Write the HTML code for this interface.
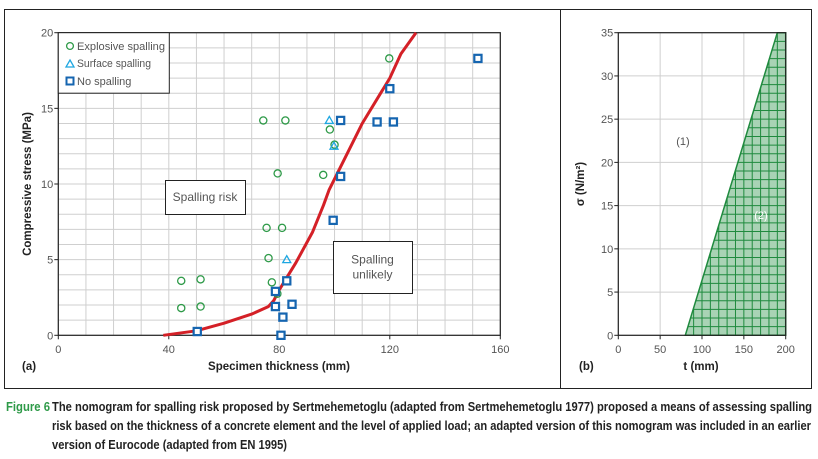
<!DOCTYPE html>
<html><head><meta charset="utf-8"><style>
html,body{margin:0;padding:0;background:#fff;}
svg{display:block;font-family:"Liberation Sans",sans-serif;}
</style></head><body>
<svg id="fig" width="818" height="459" viewBox="0 0 818 459">
<rect x="4.5" y="9.5" width="807" height="379" fill="none" stroke="#222" stroke-width="1"/>
<line x1="560.5" y1="9.5" x2="560.5" y2="388.5" stroke="#222"/>
<g id="pa"></g>
<g id="pb"></g>
<text x="6" y="411" font-size="12.5" font-weight="bold" fill="#2e9a48" textLength="44" lengthAdjust="spacingAndGlyphs">Figure 6</text>
<text x="52" y="411" font-size="12.5" font-weight="bold" fill="#222" textLength="760" lengthAdjust="spacingAndGlyphs">The nomogram for spalling risk proposed by Sertmehemetoglu (adapted from Sertmehemetoglu 1977) proposed a means of assessing spalling</text>
<text x="52" y="430" font-size="12.5" font-weight="bold" fill="#222" textLength="759" lengthAdjust="spacingAndGlyphs">risk based on the thickness of a concrete element and the level of applied load; an adapted version of this nomogram was included in an earlier</text>
<text x="52" y="449" font-size="12.5" font-weight="bold" fill="#222" textLength="235" lengthAdjust="spacingAndGlyphs">version of Eurocode (adapted from EN 1995)</text>
</svg>
<script>
const NS="http://www.w3.org/2000/svg";
// Panel (a) data
const explosiveX=[74.2,82.2,119.8,98.3,100,79.4,95.9,75.4,81,76.1,77.3,79.3,44.5,51.5,44.5,51.5];
const explosiveY=[14.2,14.2,18.3,13.6,12.6,10.7,10.6,7.1,7.1,5.1,3.5,2.75,3.6,3.7,1.8,1.9];
const surfaceX=[98.1,99.8,82.7];
const surfaceY=[14.2,12.5,5.0];
const noSpallX=[151.9,120,102.2,115.4,121.3,102.2,99.5,82.7,78.6,78.6,84.6,81.3,80.6,50.3];
const noSpallY=[18.3,16.3,14.2,14.1,14.1,10.5,7.6,3.6,2.9,1.9,2.05,1.2,0,0.25];
const curveX=[38,50,60,70,76,78,80,82,86,92,96,98,104,110,116,120,124,129.5];
const curveY=[0,0.3,0.8,1.4,1.9,2.3,3,3.6,4.8,6.8,8.6,9.6,11.8,14,15.8,17,18.6,20];
const xTicksA=[0,40,80,120,160];
const yTicksA=[0,5,10,15,20];
// Panel (b) data
const xTicksB=[0,50,100,150,200];
const yTicksB=[0,5,10,15,20,25,30,35];
const zoneX=[80,190,200,200];
const zoneY=[0,35,35,0];

function el(parent,tag,attrs,text){const e=document.createElementNS(NS,tag);for(const k in attrs)e.setAttribute(k,attrs[k]);if(text!==undefined)e.textContent=text;parent.appendChild(e);return e;}

// Panel a
const pa=document.getElementById('pa');
const ax0=58.3,ax1=500.3,ay0=335.3,ay1=32.7;
const xa=v=>ax0+(v/160)*(ax1-ax0);
const ya=v=>ay0-(v/20)*(ay0-ay1);
for(let v=0;v<=160;v+=10){const g=el(pa,'line',{x1:xa(v),y1:ay1,x2:xa(v),y2:ay0,stroke:'#cfcfcf','stroke-width':1});

}
for(let v=0;v<=20;v+=1){const g=el(pa,'line',{x1:ax0,y1:ya(v),x2:ax1,y2:ya(v),stroke:'#cfcfcf','stroke-width':1});

}
const fa=el(pa,'rect',{x:ax0,y:ay1,width:ax1-ax0,height:ay0-ay1,fill:'none',stroke:'#222','stroke-width':1.2});


xTicksA.forEach(v=>{const t=el(pa,'text',{x:xa(v),y:353,'font-size':11,'text-anchor':'middle',fill:'#555'},v);


el(pa,'line',{x1:xa(v),y1:ay0,x2:xa(v),y2:ay0+4,stroke:'#222'});});
yTicksA.forEach(v=>{const t=el(pa,'text',{x:ax0-5,y:ya(v)+4,'font-size':11,'text-anchor':'end',fill:'#555'},v);


el(pa,'line',{x1:ax0-4,y1:ya(v),x2:ax0,y2:ya(v),stroke:'#222'});});
function box(x,y,w,h,lines,name){const g=el(pa,'g',{});


el(g,'rect',{x:x+.5,y:y+.5,width:w,height:h,fill:'#fff',stroke:'#222','stroke-width':1});
lines.forEach((s,i)=>el(g,'text',{x:x+w/2,y:y+h/2+4+(i-(lines.length-1)/2)*15,'font-size':12,'text-anchor':'middle',fill:'#555'},s));}
box(165,180,80,34,['Spalling risk'],'spalling-risk-label');
box(333,241,79,52,['Spalling','unlikely'],'spalling-unlikely-label');
const d=curveX.map((x,i)=>(i?'L':'M')+xa(x).toFixed(1)+','+ya(curveY[i]).toFixed(1)).join(' ');
const cv=el(pa,'path',{d:d,fill:'none',stroke:'#d42027','stroke-width':3,'stroke-linejoin':'round'});


explosiveX.forEach((x,i)=>{const m=el(pa,'circle',{cx:xa(x),cy:ya(explosiveY[i]),r:3.6,fill:'none',stroke:'#2e9a48','stroke-width':1.3});

});
function tri(g,cx,cy){return el(g,'path',{d:`M${cx},${cy-4} L${cx+4},${cy+3} L${cx-4},${cy+3} Z`,fill:'none',stroke:'#1ea7e1','stroke-width':1.3});}
surfaceX.forEach((x,i)=>{const m=tri(pa,xa(x),ya(surfaceY[i]));

});
noSpallX.forEach((x,i)=>{const m=el(pa,'rect',{x:xa(x)-3.6,y:ya(noSpallY[i])-3.6,width:7.2,height:7.2,fill:'#fff',stroke:'#1565b0','stroke-width':2.2});

});
const lg=el(pa,'g',{});


el(lg,'rect',{x:ax0,y:ay1,width:111,height:60.5,fill:'#fff',stroke:'#222','stroke-width':1});
el(lg,'circle',{cx:70,cy:46,r:3.4,fill:'none',stroke:'#2e9a48','stroke-width':1.3});
el(lg,'text',{x:77,y:50,'font-size':11,fill:'#555',textLength:88,lengthAdjust:'spacingAndGlyphs'},'Explosive spalling');
tri(lg,70,64);
el(lg,'text',{x:77,y:67,'font-size':11,fill:'#555',textLength:74,lengthAdjust:'spacingAndGlyphs'},'Surface spalling');
el(lg,'rect',{x:66.5,y:77.5,width:7,height:7,fill:'#fff',stroke:'#1565b0','stroke-width':2});
el(lg,'text',{x:77,y:85,'font-size':11,fill:'#555'},'No spalling');
const xla=el(pa,'text',{x:279,y:370,'font-size':11.5,'font-weight':'bold','text-anchor':'middle',fill:'#222'},'Specimen thickness (mm)');


const yla=el(pa,'text',{x:0,y:0,'font-size':11.5,'font-weight':'bold','text-anchor':'middle',fill:'#222',transform:'translate(31,184) rotate(-90)'},'Compressive stress (MPa)');


const pla=el(pa,'text',{x:22,y:370,'font-size':11.5,'font-weight':'bold',fill:'#222'},'(a)');



// Panel b
const pb=document.getElementById('pb');
const bx0=618.3,bx1=785.7,by0=335.3,by1=32.7;
const xb=v=>bx0+(v/200)*(bx1-bx0);
const yb=v=>by0-(v/35)*(by0-by1);
xTicksB.forEach(v=>{const g=el(pb,'line',{x1:xb(v),y1:by1,x2:xb(v),y2:by0,stroke:'#cfcfcf'});


const t=el(pb,'text',{x:xb(v),y:353,'font-size':11,'text-anchor':'middle',fill:'#555'},v);


el(pb,'line',{x1:xb(v),y1:by0,x2:xb(v),y2:by0+4,stroke:'#222'});});
yTicksB.forEach(v=>{const g=el(pb,'line',{x1:bx0,y1:yb(v),x2:bx1,y2:yb(v),stroke:'#cfcfcf'});


const t=el(pb,'text',{x:bx0-5,y:yb(v)+4,'font-size':11,'text-anchor':'end',fill:'#555'},v);


el(pb,'line',{x1:bx0-4,y1:yb(v),x2:bx0,y2:yb(v),stroke:'#222'});});
const pts=zoneX.map((x,i)=>xb(x).toFixed(1)+','+yb(zoneY[i]).toFixed(1)).join(' ');
const defs=el(pb,'defs',{});
const cp=el(defs,'clipPath',{id:'zc'});el(cp,'polygon',{points:pts});
const zone=el(pb,'g',{'clip-path':'url(#zc)'});


el(zone,'polygon',{points:pts,fill:'#a9d3b5'});
for(let v=0;v<=200;v+=10)el(zone,'line',{x1:xb(v),y1:by1,x2:xb(v),y2:by0,stroke:'#1f8a3e','stroke-width':1});
for(let v=0;v<=35;v+=1)el(zone,'line',{x1:bx0,y1:yb(v),x2:bx1,y2:yb(v),stroke:'#1f8a3e','stroke-width':1});
el(pb,'polygon',{points:pts,fill:'none',stroke:'#1f8a3e','stroke-width':1.5});
el(pb,'rect',{x:bx0,y:by1,width:bx1-bx0,height:by0-by1,fill:'none',stroke:'#222','stroke-width':1.2});
const z1=el(pb,'text',{x:683,y:145,'font-size':11,'text-anchor':'middle',fill:'#555'},'(1)');


const z2=el(pb,'text',{x:761,y:219,'font-size':11,'text-anchor':'middle',fill:'#fff'},'(2)');


const xlb=el(pb,'text',{x:701,y:370,'font-size':11.5,'font-weight':'bold','text-anchor':'middle',fill:'#222'},'t (mm)');


const ylb=el(pb,'text',{x:0,y:0,'font-size':11.5,'font-weight':'bold','text-anchor':'middle',fill:'#222',transform:'translate(584,184) rotate(-90)'},'σ (N/m²)');


const plb=el(pb,'text',{x:579,y:370,'font-size':11.5,'font-weight':'bold',fill:'#222'},'(b)');


</script>
</body></html>
